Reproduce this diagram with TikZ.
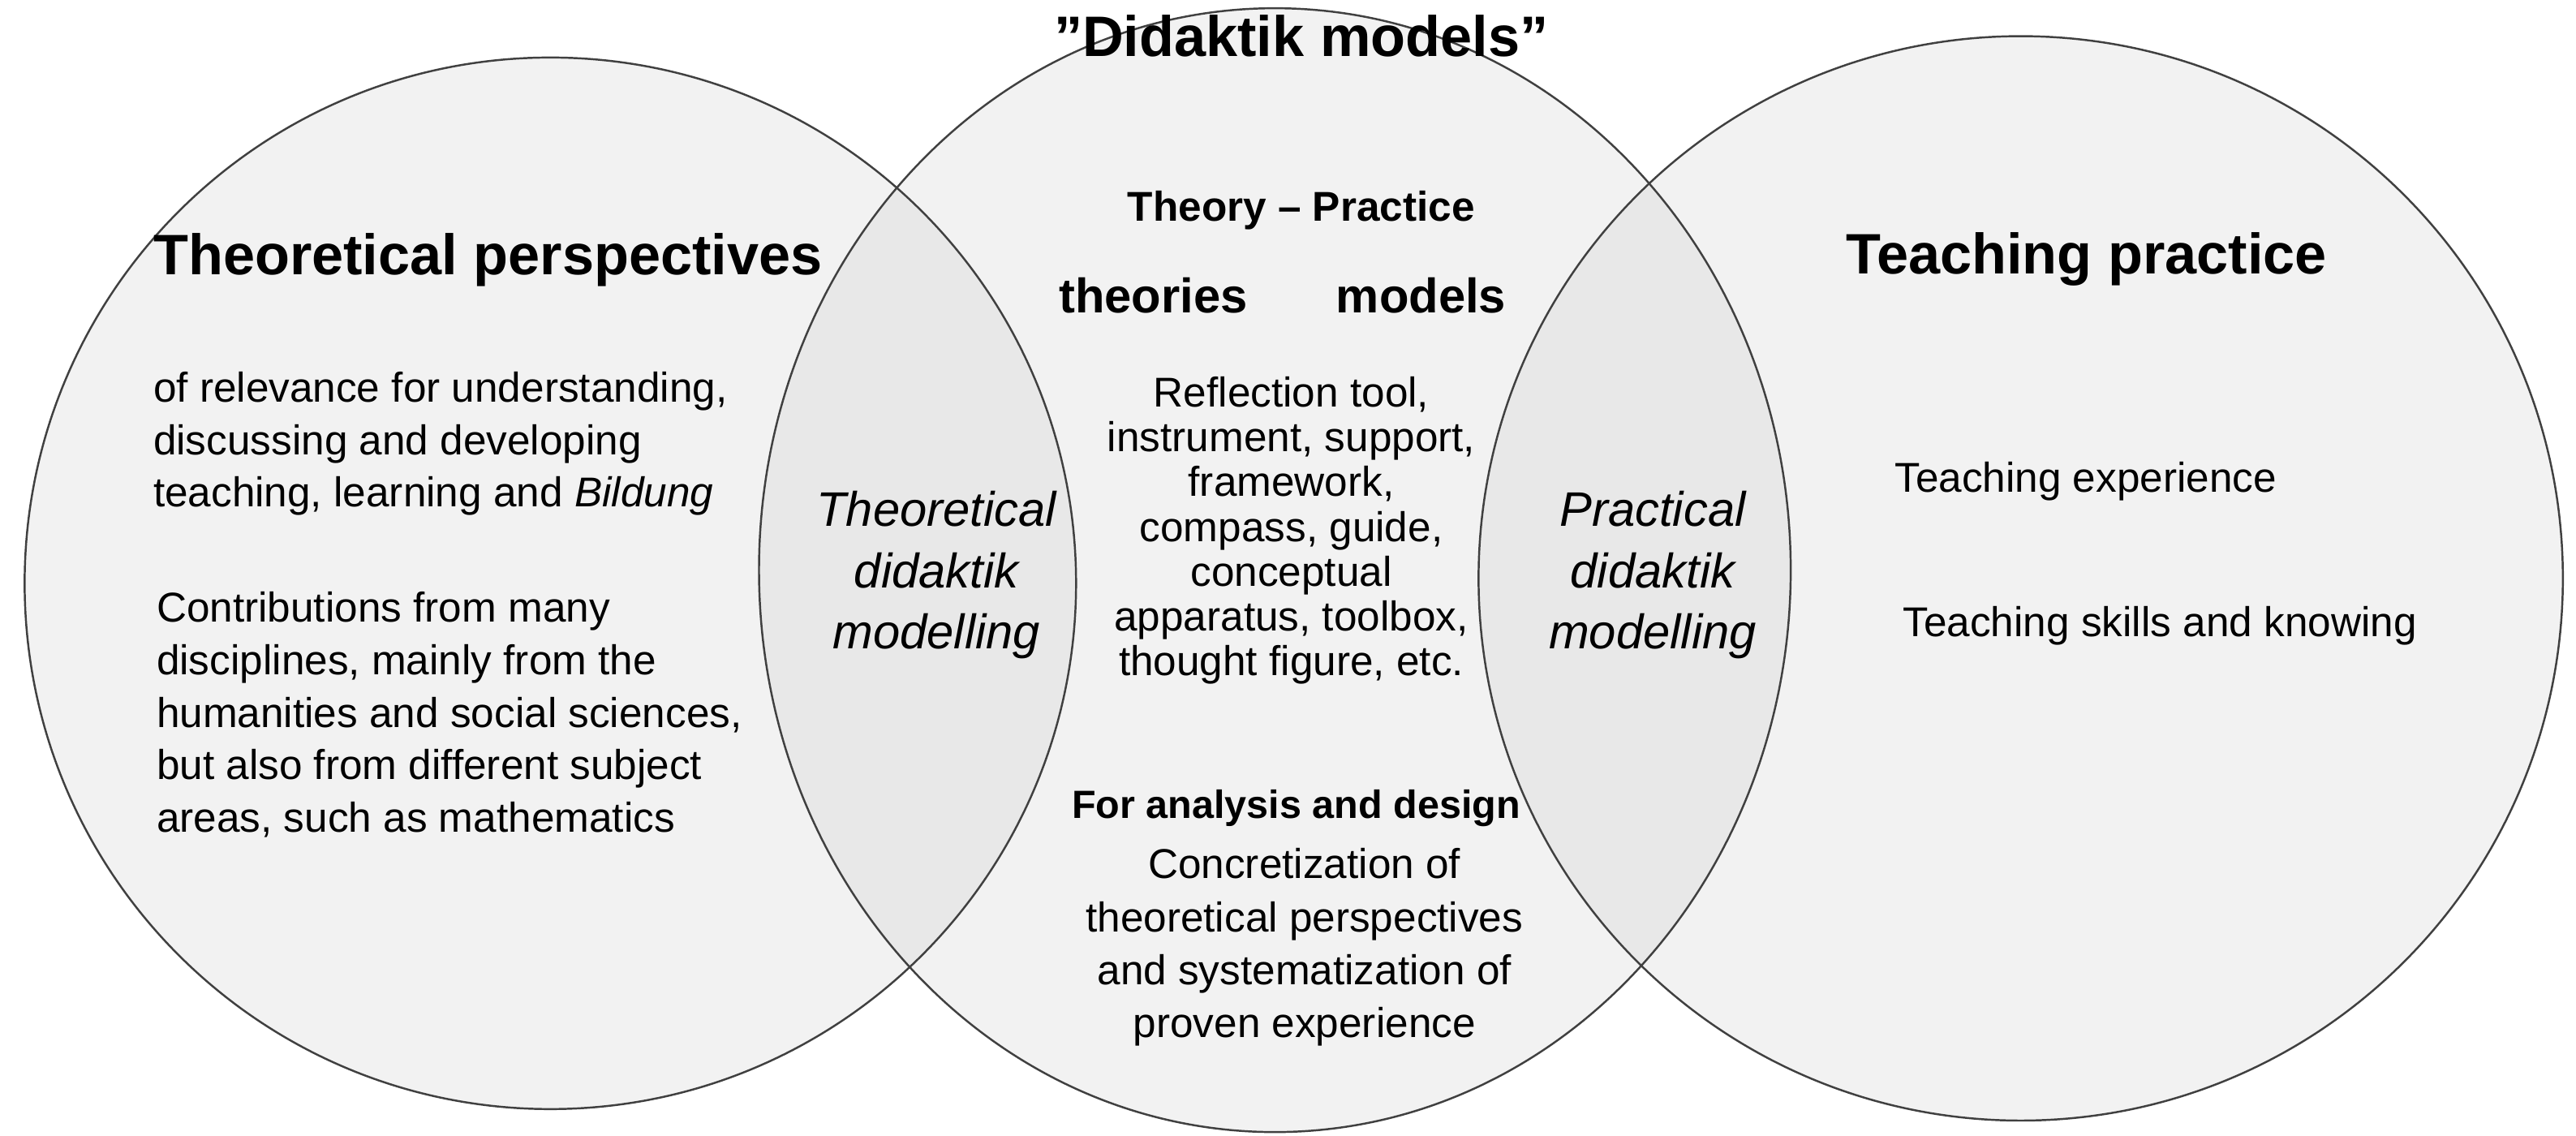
\documentclass[tikz,border=0pt]{standalone}
\usepackage{fontspec}
\setmainfont{Liberation Sans}
\begin{document}
\begin{tikzpicture}[x=0.02025cm,y=-0.02025cm,
  circ/.style={draw=black!75,line width=0.7pt},
  body/.style={font=\fontsize{14.6}{18.4}\selectfont,align=left,inner sep=0pt},
  cbody/.style={font=\fontsize{14.6}{15.7}\selectfont,align=center,inner sep=0pt},
  title/.style={font=\fontsize{20}{22}\selectfont\bfseries,inner sep=0pt},
  lens/.style={font=\fontsize{17}{21.5}\selectfont\itshape,align=center,inner sep=0pt}]
\useasboundingbox (0,0) rectangle (1568,691);
\def\Lc{(335,355) circle [radius=320]}
\def\Mc{(776,347) ellipse [x radius=314,y radius=342]}
\def\Rc{(1230,352) circle [radius=330]}
\fill[black!5] \Lc; \fill[black!5] \Mc; \fill[black!5] \Rc;
\begin{scope}\clip \Lc; \fill[black!9] \Mc;\end{scope}
\begin{scope}\clip \Rc; \fill[black!9] \Mc;\end{scope}
\draw[circ] \Lc; \draw[circ] \Mc; \draw[circ] \Rc;
\node[title] (tp) at (297,158) {Theoretical perspectives};
\node[body,anchor=north west] (p1) at (93,226) {of relevance for understanding,\\discussing and developing\\teaching, learning and \textit{Bildung}};
\node[body,anchor=north west] (p2) at (95,360) {Contributions from many\\disciplines, mainly from the\\humanities and social sciences,\\but also from different subject\\areas, such as mathematics};
\node[lens] (tdm) at (570,350) {Theoretical\\didaktik\\modelling};
\node[lens] (pdm) at (1006,350) {Practical\\didaktik\\modelling};
\node[title] (dm) at (792,22) {"Didaktik models"};
\node[font=\fontsize{14.6}{16}\selectfont\bfseries,inner sep=0pt] (thp) at (792,128) {Theory -- Practice};
\node[font=\fontsize{17}{18}\selectfont\bfseries,inner sep=0pt] (th) at (702,180) {theories};
\node[font=\fontsize{17}{18}\selectfont\bfseries,inner sep=0pt] (mo) at (865,180) {models};
\node[cbody,anchor=north] (list) at (786,229) {Reflection tool,\\instrument, support,\\framework,\\compass, guide,\\conceptual\\apparatus, toolbox,\\thought figure, etc.};
\node[font=\fontsize{13.8}{15}\selectfont\bfseries,inner sep=0pt] (fad) at (789,492) {For analysis and design};
\node[cbody,anchor=north,font=\fontsize{14.6}{18.6}\selectfont] (conc) at (794,516) {Concretization of\\theoretical perspectives\\and systematization of\\proven experience};
\node[title] (tpr) at (1270,158) {Teaching practice};
\node[body,anchor=west] (te) at (1153,293) {Teaching experience};
\node[body,anchor=west] (ts) at (1158,381) {Teaching skills and knowing};
\end{tikzpicture}
\end{document}
